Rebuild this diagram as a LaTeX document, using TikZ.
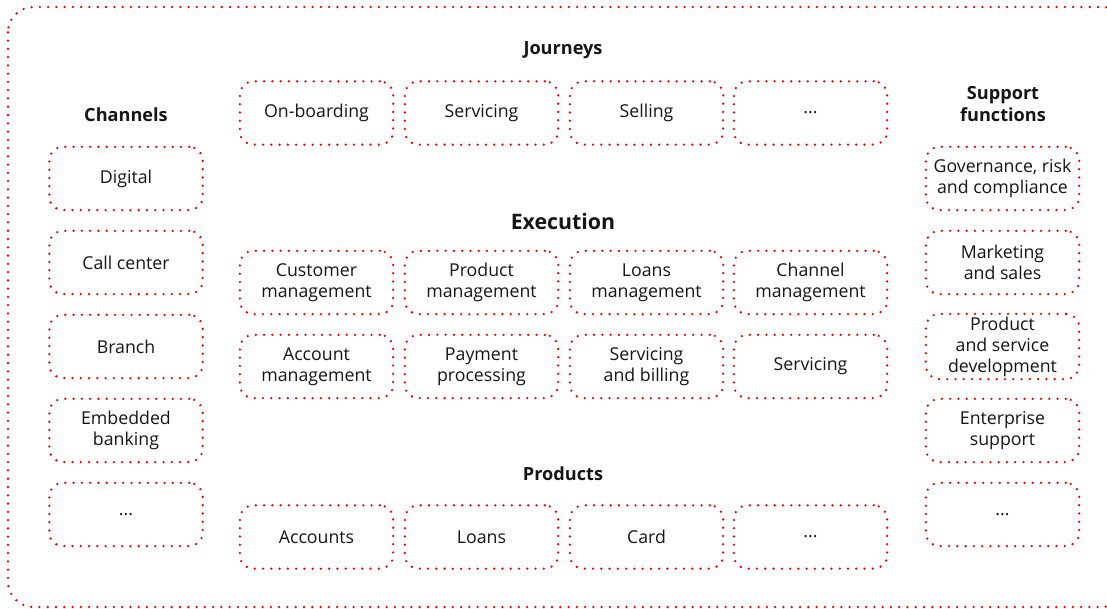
\documentclass[tikz,border=0pt]{standalone}
\usepackage{fontspec}
\setmainfont{Open Sans}
\definecolor{rhred}{RGB}{238,0,0}
\definecolor{ink}{RGB}{21,21,21}

\tikzset{
  dotline/.style={draw=rhred, line width=1.9pt, line cap=round, dash pattern=on 0pt off 6.2pt},
  area/.style={dotline, rounded corners=10pt, minimum width=115pt, minimum height=47.5pt,
    align=center, inner sep=2pt, text=ink, font=\fontsize{13.3}{15.8}\selectfont},
  heading/.style={align=center, text=ink, font=\fontsize{13.6}{16}\selectfont\bfseries},
}

\begin{document}
\begin{tikzpicture}[x=0.75pt, y=-0.75pt]

  \clip (0,0) rectangle (1107,608);
  \useasboundingbox (0,0) rectangle (1107,608);

  % frame around everything
  \draw[dotline, rounded corners=19pt] (8,7) rectangle (1127,607);

  % headings
  \node[heading] (journeys) at (563,50) {Journeys};
  \node[heading] (channels) at (126,115) {Channels};
  \node[heading] (support) at (1003,104) {Support\\functions};
  \node[heading, font=\fontsize{16}{19}\selectfont\bfseries] (execution) at (563,221) {Execution};
  \node[heading] (products) at (563,474) {Products};

  % channels
  \node[area] (digital) at (126,178.5) {Digital};
  \node[area] (callcenter) at (126,262.5) {Call center};
  \node[area] (branch) at (126,346.5) {Branch};
  \node[area] (embedded) at (126,430.5) {Embedded\\banking};
  \node[area] (chmore) at (126,514.5) {...};

  % journeys
  \node[area] (onboarding) at (316.5,113) {On-boarding};
  \node[area] (jservicing) at (481.5,113) {Servicing};
  \node[area] (selling) at (646.5,113) {Selling};
  \node[area] (jmore) at (810.5,113) {...};

  % execution
  \node[area] (custmgmt) at (316.5,282.5) {Customer\\management};
  \node[area] (prodmgmt) at (481.5,282.5) {Product\\management};
  \node[area] (loanmgmt) at (646.5,282.5) {Loans\\management};
  \node[area] (chanmgmt) at (810.5,282.5) {Channel\\management};

  \node[area] (acctmgmt) at (316.5,366.5) {Account\\management};
  \node[area] (payment) at (481.5,366.5) {Payment\\processing};
  \node[area] (billing) at (646.5,366.5) {Servicing\\and billing};
  \node[area] (eservicing) at (810.5,366.5) {Servicing};

  % products
  \node[area] (accounts) at (316.5,537) {Accounts};
  \node[area] (loans) at (481.5,537) {Loans};
  \node[area] (card) at (646.5,537) {Card};
  \node[area] (pmore) at (810.5,537) {...};

  % support functions
  \node[area] (grc) at (1002.5,178.5) {Governance, risk\\and compliance};
  \node[area] (marketing) at (1002.5,262.5) {Marketing\\and sales};
  \node[area] (development) at (1002.5,346.5) {Product\\and service\\development};
  \node[area] (enterprise) at (1002.5,430.5) {Enterprise\\support};
  \node[area] (smore) at (1002.5,514.5) {...};

\end{tikzpicture}
\end{document}
